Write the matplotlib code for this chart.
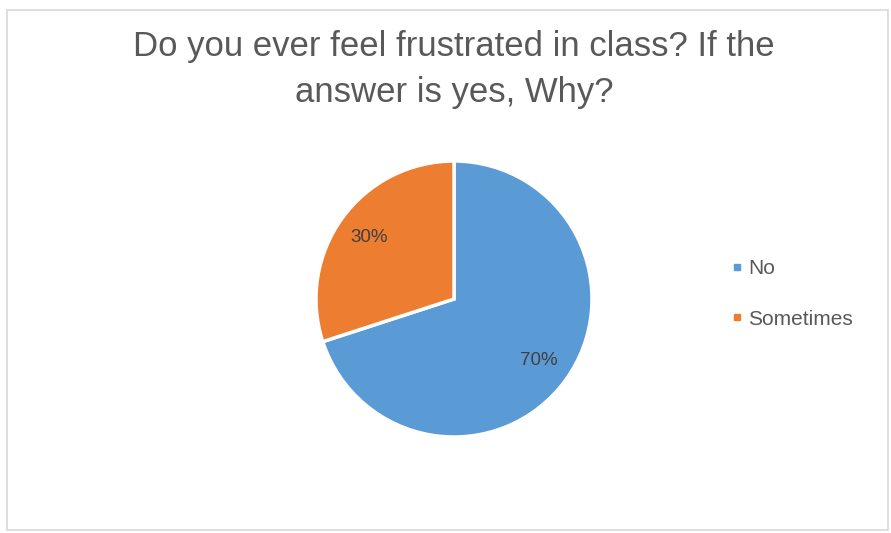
import numpy as np
import matplotlib.pyplot as plt
from matplotlib.patches import Rectangle
from matplotlib.lines import Line2D

plt.rcParams['font.family'] = ['Liberation Sans', 'DejaVu Sans']

title = "Do you ever feel frustrated in class? If the\nanswer is yes, Why?"
labels = ["No", "Sometimes"]
shares = [70, 30]
colors = ["#5B9BD5", "#ED7D31"]

fig = plt.figure(figsize=(8.91, 5.33), dpi=100)
fig.patch.set_facecolor("white")

# chart area outline
fig.add_artist(Rectangle((7 / 891, 3 / 533), 881 / 891, 520 / 533, transform=fig.transFigure,
                         fill=False, edgecolor="#D9D9D9", linewidth=1.2))

fig.text(454 / 891, 1 - 30 / 533, title, ha="center", va="top", fontsize=25, color="#595959",
         linespacing=1.5)

ax = fig.add_axes([(454 - 138) / 891, 1 - (299 + 138) / 533, 276 / 891, 276 / 533])
wedges, texts = ax.pie(
    shares, colors=colors, startangle=90, counterclock=False, radius=1,
    wedgeprops=dict(edgecolor="white", linewidth=2.5))
ax.set_xlim(-1, 1)
ax.set_ylim(-1, 1)
ax.set_aspect("equal")

# percentage labels along each wedge's middle angle
for w, v in zip(wedges, shares):
    ang = np.deg2rad((w.theta1 + w.theta2) / 2)
    ax.text(0.76 * np.cos(ang), 0.76 * np.sin(ang), f"{v}%", ha="center", va="center",
            color="#404040", fontsize=13.5)

handles = [Line2D([], [], marker="s", linestyle="none", markersize=5,
                  markerfacecolor=c, markeredgecolor=c) for c in colors]
fig.legend(handles, labels, loc="center left", bbox_to_anchor=(712 / 891, 1 - 294 / 533),
           frameon=False, fontsize=15, labelcolor="#595959", handlelength=0.6,
           handletextpad=0.25, labelspacing=1.5)

fig.savefig("out.png", dpi=100, facecolor="white")
